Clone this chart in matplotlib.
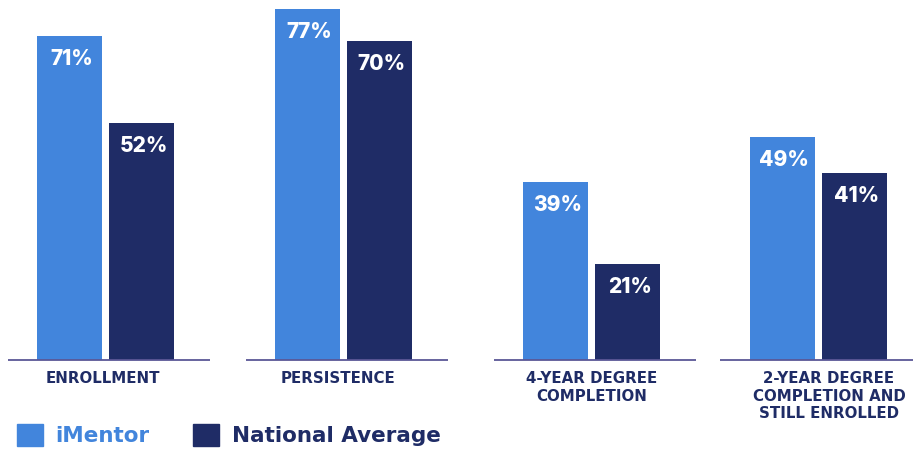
import matplotlib
matplotlib.use('Agg')
import matplotlib.pyplot as plt
from matplotlib.patches import Patch

categories = ['ENROLLMENT', 'PERSISTENCE', '4-YEAR DEGREE\nCOMPLETION',
              '2-YEAR DEGREE\nCOMPLETION AND\nSTILL ENROLLED']
imentor = [71, 77, 39, 49]
national = [52, 70, 21, 41]
series_names = ['iMentor', 'National Average']

LIGHT = '#4285dc'
NAVY = '#1f2c66'
LINE = '#5b5796'

plt.rcParams['font.family'] = ['Lato', 'DejaVu Sans']

fig = plt.figure(figsize=(9.13, 4.5), dpi=100)
ax = fig.add_axes([0, 0.2, 1, 0.8])
ax.set_xlim(0, 913)
ax.set_ylim(0, 78.95)
ax.axis('off')

centers = [105.5, 343.5, 591.5, 818]
label_nudge = [-3, -6, 0, 11]
width = 65
off = 36

for i, c in enumerate(centers):
    for x, v, col in [(c - off, imentor[i], LIGHT), (c + off, national[i], NAVY)]:
        ax.bar(x, v, width=width, color=col, zorder=2)
        ax.annotate('%d%%' % v, (x, v), xytext=(1.5, -9.5), textcoords='offset points',
                    ha='center', va='top', color='white', fontsize=15,
                    family='Inter', fontweight='heavy', zorder=3)
    ax.plot([c - 98, c + 104], [0, 0], color=LINE, lw=1.3, zorder=3,
            solid_capstyle='butt', clip_on=False)
    ax.annotate(categories[i], (c, 0), xytext=(label_nudge[i] * 0.72, -8),
                textcoords='offset points', ha='center', va='top', color=NAVY,
                fontsize=10.8, family='DejaVu Sans', fontweight='bold',
                linespacing=1.22, annotation_clip=False)

handles = [Patch(color=LIGHT), Patch(color=NAVY)]
leg = fig.legend(handles, series_names, loc='upper left',
                 bbox_to_anchor=(17 / 913, 1 - 424 / 450), ncol=2, frameon=False,
                 prop={'family': 'DejaVu Sans', 'weight': 'bold', 'size': 15.5},
                 handlelength=1.2, handleheight=1.2, handletextpad=0.6,
                 columnspacing=2.0, borderpad=0, borderaxespad=0)
for t, c in zip(leg.get_texts(), [LIGHT, NAVY]):
    t.set_color(c)

fig.savefig('out.png', dpi=100)
